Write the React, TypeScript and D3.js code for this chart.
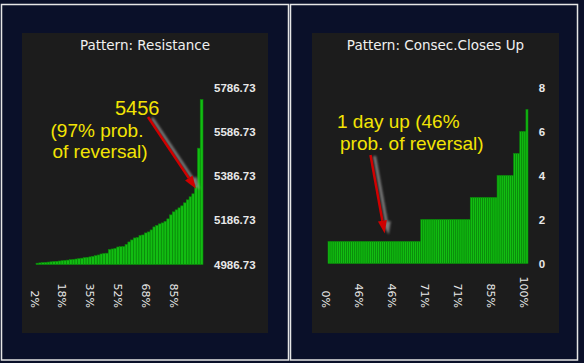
import React from "react";
import * as d3 from "d3";

const W = 584;
const H = 363;

// ---- Left panel data: Pattern: Resistance ----
const leftTitle = "Pattern: Resistance";
const leftValues = [
  4992.6, 4994.0, 4995.3, 4996.2, 4997.6, 4998.9, 5000.3, 5001.2, 5002.6, 5003.9,
  5005.3, 5006.6, 5008.5, 5009.8, 5011.6, 5013.4, 5015.3, 5017.5, 5019.3, 5021.2,
  5023.9, 5026.6, 5029.8, 5034.3, 5036.6, 5037.9, 5054.7, 5057.0, 5059.2, 5066.0,
  5067.4, 5068.3, 5077.4, 5088.7, 5097.8, 5106.8, 5109.1, 5118.2, 5120.4, 5129.5,
  5134.0, 5143.1, 5156.7, 5163.5, 5170.3, 5174.8, 5181.6, 5193.0, 5211.1, 5224.7,
  5233.7, 5242.8, 5251.9, 5265.5, 5279.1, 5292.7, 5306.3, 5342.5, 5512.5, 5732.4,
];
const leftYTicks = [4986.73, 5186.73, 5386.73, 5586.73, 5786.73];
const leftXTickIdx = [0, 10, 20, 30, 40, 50];
const leftXTickLabels = ["2%", "18%", "35%", "52%", "68%", "85%"];
const leftNote = ["5456", "(97% prob.", "of reversal)"];
const leftNoteBar = 57;

// ---- Right panel data: Pattern: Consec.Closes Up ----
const rightTitle = "Pattern: Consec.Closes Up";
const rightValues = [
  1, 1, 1, 1, 1, 1, 1, 1, 1, 1, 1, 1, 1, 1, 1, 1, 1, 1, 1, 1,
  1, 1, 1, 1, 1, 1, 1, 1, 1, 1, 1, 1, 1, 1, 1, 1, 1, 1, 1, 1,
  1, 1, 1, 1, 1,
  2, 2, 2, 2, 2, 2, 2, 2, 2, 2, 2, 2, 2, 2, 2, 2, 2, 2, 2, 2,
  2, 2, 2, 2,
  3, 3, 3, 3, 3, 3, 3, 3, 3, 3, 3, 3, 3,
  4, 4, 4, 4, 4, 4, 4, 4,
  5, 5, 5,
  6, 6, 6,
  7,
];
const rightYTicks = [0, 2, 4, 6, 8];
const rightXTickIdx = [0, 16, 32, 48, 64, 80, 96];
const rightXTickLabels = ["0%", "46%", "46%", "71%", "71%", "85%", "100%"];
const rightNote = ["1 day up (46%", "prob. of reversal)"];
const rightNoteBar = 27;

const NAVY = "#0a1029";
const PANEL = "#1c1c1c";
const GREEN = "#12bd12";
const GREEN_EDGE = "#0a860a";
const YELLOW = "#f3e404";
const RED = "#d00000";

function Arrow({ x1, y1, x2, y2 }: { x1: number; y1: number; x2: number; y2: number }) {
  const ang = Math.atan2(y2 - y1, x2 - x1);
  const len = 13;
  const half = 4.5;
  const bx = x2 - len * Math.cos(ang);
  const by = y2 - len * Math.sin(ang);
  const px = -Math.sin(ang) * half;
  const py = Math.cos(ang) * half;
  const head = `${x2},${y2} ${bx + px},${by + py} ${bx - px},${by - py}`;
  const sdx = 4;
  const sdy = 1;
  return (
    <g>
      <g filter="url(#blur)" opacity={0.75}>
        <line x1={x1 + sdx} y1={y1 + sdy} x2={bx + sdx} y2={by + sdy} stroke="#9a9a9a" strokeWidth={3} />
        <polygon
          points={`${x2 + sdx},${y2 + sdy} ${bx + px + sdx},${by + py + sdy} ${bx - px + sdx},${by - py + sdy}`}
          fill="#9a9a9a"
        />
      </g>
      <line x1={x1} y1={y1} x2={bx} y2={by} stroke={RED} strokeWidth={2.5} />
      <polygon points={head} fill={RED} />
    </g>
  );
}

function Panel(props: {
  ox: number;
  title: string;
  titleX: number;
  values: number[];
  xRange: [number, number];
  yDomain: [number, number];
  yRange: [number, number];
  yTicks: number[];
  yFmt: (v: number) => string;
  yLabelX: number;
  yAnchor: string;
  xTickIdx: number[];
  xTickLabels: string[];
  innerX: number;
  innerW: number;
  children?: (x: d3.ScaleBand<number>, y: d3.ScaleLinear<number, number>) => React.ReactNode;
}) {
  const { values } = props;
  const x = d3
    .scaleBand<number>()
    .domain(d3.range(values.length))
    .range(props.xRange)
    .padding(0);
  const y = d3.scaleLinear().domain(props.yDomain).range(props.yRange);
  const base = y(props.yDomain[0]);
  const bw = x.bandwidth();
  return (
    <g>
      <rect x={props.ox + 0.5} y={4.5} width={287} height={355.5} fill={NAVY} stroke="#e6e6e6" strokeWidth={1.5} />
      <rect x={props.innerX} y={33} width={props.innerW} height={300} fill={PANEL} />
      <text
        x={props.titleX}
        y={50}
        textAnchor="middle"
        fill="#f0f0f0"
        fontFamily="DejaVu Sans"
        fontSize={13.5}
      >
        {props.title}
      </text>
      {values.map((v, i) => (
        <rect
          key={i}
          x={x(i)!}
          y={y(v)}
          width={bw}
          height={base - y(v)}
          fill={GREEN}
          stroke={GREEN_EDGE}
          strokeWidth={0.6}
        />
      ))}
      {props.yTicks.map((t) => (
        <text
          key={t}
          x={props.yLabelX}
          y={y(t)}
          dy="0.35em"
          textAnchor={props.yAnchor}
          fill="#e8e8e8"
          fontFamily="Liberation Sans"
          fontWeight="bold"
          fontSize={11.5}
        >
          {props.yFmt(t)}
        </text>
      ))}
      {props.xTickIdx.map((idx, k) => (
        <text
          key={k}
          transform={`translate(${x(idx)! + bw / 2 - 3},308) rotate(90)`}
          dy="0.35em"
          textAnchor="end"
          fill="#e8e8e8"
          fontFamily="DejaVu Sans"
          fontSize={11}
        >
          {props.xTickLabels[k]}
        </text>
      ))}
      {props.children ? props.children(x, y) : null}
    </g>
  );
}

export default function App() {
  return (
    <svg
      width={W}
      height={H}
      style={{ position: "absolute", left: 0, top: 0, display: "block" }}
    >
      <defs>
        <filter id="blur" x="-50%" y="-50%" width="200%" height="200%">
          <feGaussianBlur stdDeviation={1.2} />
        </filter>
      </defs>
      <rect x={0} y={0} width={W} height={H} fill={NAVY} />
      <Panel
        ox={1}
        title={leftTitle}
        titleX={145}
        values={leftValues}
        xRange={[36, 203]}
        yDomain={[4986.73, 5786.73]}
        yRange={[264.5, 87.5]}
        yTicks={leftYTicks}
        yFmt={(v) => v.toFixed(2)}
        yLabelX={214}
        yAnchor="start"
        xTickIdx={leftXTickIdx}
        xTickLabels={leftXTickLabels}
        innerX={22}
        innerW={246}
      >
        {(x, y) => {
          const tx = x(leftNoteBar)! + x.bandwidth() / 2;
          const ty = y(leftValues[leftNoteBar]) + 3;
          return (
            <g>
              <Arrow x1={148} y1={117} x2={tx} y2={ty} />
              <text x={115} y={115} fill={YELLOW} fontFamily="Liberation Sans" fontSize={20}>
                {leftNote[0]}
              </text>
              <text x={50.5} y={137} fill={YELLOW} fontFamily="Liberation Sans" fontSize={19}>
                {leftNote[1]}
              </text>
              <text x={52.5} y={157.5} fill={YELLOW} fontFamily="Liberation Sans" fontSize={19}>
                {leftNote[2]}
              </text>
            </g>
          );
        }}
      </Panel>
      <Panel
        ox={290}
        title={rightTitle}
        titleX={435.5}
        values={rightValues}
        xRange={[328, 528]}
        yDomain={[0, 8]}
        yRange={[263.5, 87.5]}
        yTicks={rightYTicks}
        yFmt={(v) => String(v)}
        yLabelX={542}
        yAnchor="middle"
        xTickIdx={rightXTickIdx}
        xTickLabels={rightXTickLabels}
        innerX={312}
        innerW={247}
      >
        {(x, y) => {
          const tx = x(rightNoteBar)! + x.bandwidth() / 2;
          const ty = y(rightValues[rightNoteBar]) - 8;
          return (
            <g>
              <Arrow x1={370.5} y1={155} x2={tx} y2={ty} />
              <text x={337} y={127.5} fill={YELLOW} fontFamily="Liberation Sans" fontSize={19}>
                {rightNote[0]}
              </text>
              <text x={340} y={149.5} fill={YELLOW} fontFamily="Liberation Sans" fontSize={19}>
                {rightNote[1]}
              </text>
            </g>
          );
        }}
      </Panel>
    </svg>
  );
}
